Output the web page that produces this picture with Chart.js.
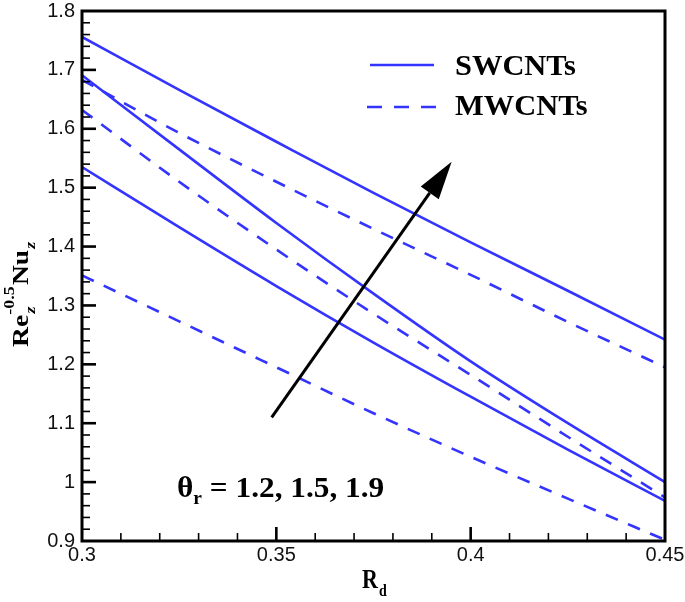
<!DOCTYPE html>
<html><head><meta charset="utf-8">
<script src="https://cdn.jsdelivr.net/npm/chart.js@4.4.0/dist/chart.umd.min.js"></script>
<style>html,body{margin:0;padding:0;background:#fff;}#wrap{width:685px;height:602px;position:relative;}</style>
</head><body><div id="wrap"><canvas id="c" width="685" height="602"></canvas></div>
<script>
// ---- data ----
const Rd = [0.3, 0.325, 0.35, 0.375, 0.4, 0.425, 0.45];
const swcnt_t12 = [1.535, 1.433, 1.333, 1.237, 1.145, 1.055, 0.968];
const swcnt_t15 = [1.691, 1.565, 1.440, 1.320, 1.205, 1.100, 1.000];
const swcnt_t19 = [1.756, 1.666, 1.578, 1.491, 1.407, 1.325, 1.242];
const mwcnt_t12 = [1.351, 1.273, 1.195, 1.117, 1.043, 0.972, 0.902];
const mwcnt_t15 = [1.632, 1.510, 1.395, 1.286, 1.182, 1.077, 0.974];
const mwcnt_t19 = [1.683, 1.593, 1.510, 1.430, 1.352, 1.272, 1.195];
const seriesLabels = ['SWCNTs', 'MWCNTs'];
const thetaValues = ['1.2', '1.5', '1.9'];
const xTickValues = [0.3, 0.35, 0.4, 0.45];
const xTickLabels = ['0.3', '0.35', '0.4', '0.45'];
const yTickValues = [0.9, 1.0, 1.1, 1.2, 1.3, 1.4, 1.5, 1.6, 1.7, 1.8];
const yTickLabels = ['0.9', '1', '1.1', '1.2', '1.3', '1.4', '1.5', '1.6', '1.7', '1.8'];
// arrow (data coordinates): tail -> tip
const arrowTail = [0.3488, 1.110];
const arrowTip = [0.3951, 1.544];

// ---- styles ----
const BLUE = '#3434ff';
const DASH = [13, 11];
const SERIF = '"Liberation Serif", "Times New Roman", serif';
const SANS = '"Liberation Sans", Arial, sans-serif';

function ds(label, vals, dashed) {
  return {
    label: label,
    data: Rd.map((x, i) => ({x: x, y: vals[i]})),
    borderColor: BLUE, borderWidth: 2.6,
    borderDash: dashed ? DASH : [],
    pointRadius: 0, tension: 0.35, cubicInterpolationMode: 'monotone', fill: false
  };
}

const overlay = {
  id: 'overlay',
  afterDraw(chart) {
    const ctx = chart.ctx, a = chart.chartArea, xs = chart.scales.x, ys = chart.scales.y;
    ctx.save();
    // inward ticks
    ctx.strokeStyle = '#000';
    for (let i = 1; i < 15; i++) {
      const px = xs.getPixelForValue(0.3 + i * 0.01);
      const major = i % 5 === 0;
      ctx.lineWidth = major ? 2.6 : 1.6;
      ctx.beginPath(); ctx.moveTo(px, a.bottom); ctx.lineTo(px, a.bottom - (major ? 14 : 8)); ctx.stroke();
    }
    for (let i = 1; i < 45; i++) {
      const py = ys.getPixelForValue(0.9 + i * 0.02);
      const major = i % 5 === 0;
      ctx.lineWidth = major ? 2.6 : 1.6;
      ctx.beginPath(); ctx.moveTo(a.left, py); ctx.lineTo(a.left + (major ? 14 : 8), py); ctx.stroke();
    }
    // frame
    ctx.lineWidth = 3;
    ctx.strokeRect(a.left, a.top, a.right - a.left, a.bottom - a.top);

    // legend
    ctx.strokeStyle = BLUE; ctx.lineWidth = 2.6;
    ctx.setLineDash([]);
    ctx.beginPath(); ctx.moveTo(370, 65); ctx.lineTo(434, 65); ctx.stroke();
    ctx.setLineDash([15, 12]);
    ctx.beginPath(); ctx.moveTo(367, 107); ctx.lineTo(436, 107); ctx.stroke();
    ctx.setLineDash([]);
    ctx.fillStyle = '#000';
    ctx.textBaseline = 'alphabetic'; ctx.textAlign = 'left';
    ctx.save();
    ctx.translate(455, 0); ctx.scale(1.05, 1);
    ctx.font = 'bold 29px ' + SERIF;
    ctx.fillText(seriesLabels[0], 0, 75);
    ctx.fillText(seriesLabels[1], 0, 115);
    ctx.restore();

    // arrow
    const tx = xs.getPixelForValue(arrowTail[0]), ty = ys.getPixelForValue(arrowTail[1]);
    const hx = xs.getPixelForValue(arrowTip[0]), hy = ys.getPixelForValue(arrowTip[1]);
    const ang = Math.atan2(hy - ty, hx - tx);
    const hl = 38, hw = 11;
    const bx = hx - hl * Math.cos(ang), by = hy - hl * Math.sin(ang);
    ctx.strokeStyle = '#000'; ctx.lineWidth = 3;
    ctx.beginPath(); ctx.moveTo(tx, ty); ctx.lineTo(bx, by); ctx.stroke();
    ctx.beginPath();
    ctx.moveTo(hx, hy);
    ctx.lineTo(bx + hw * Math.sin(ang), by - hw * Math.cos(ang));
    ctx.lineTo(bx - hw * Math.sin(ang), by + hw * Math.cos(ang));
    ctx.closePath(); ctx.fillStyle = '#000'; ctx.fill();

    // theta annotation
    ctx.save();
    ctx.translate(177, 497); ctx.scale(1.08, 1);
    let cx = 0;
    ctx.font = 'bold 29px ' + SERIF;
    ctx.fillText('\u03B8', cx, 0); cx += ctx.measureText('\u03B8').width;
    ctx.font = 'bold 18px ' + SERIF;
    ctx.fillText('r', cx, 7); cx += ctx.measureText('r').width;
    ctx.font = 'bold 29px ' + SERIF;
    ctx.fillText(' = ' + thetaValues.join(', '), cx, 0);
    ctx.restore();

    // x title
    ctx.save();
    ctx.translate(362, 588);
    ctx.scale(1, 1.2);
    ctx.font = 'bold 22px ' + SERIF;
    ctx.fillText('R', 0, 0);
    const rw = ctx.measureText('R').width;
    ctx.font = 'bold 14px ' + SERIF;
    ctx.fillText('d', rw + 1, 7);
    ctx.restore();

    // y title
    ctx.save();
    ctx.translate(28, 347);
    ctx.rotate(-Math.PI / 2);
    ctx.scale(1.2, 1);
    let px = 0;
    ctx.font = 'bold 23px ' + SERIF;
    ctx.fillText('Re', px, 0); px += ctx.measureText('Re').width;
    ctx.font = 'italic bold 15px ' + SERIF;
    ctx.fillText('z', px + 1, 7);
    ctx.font = 'bold 15px ' + SERIF;
    ctx.fillText('-0.5', px, -14);
    px += ctx.measureText('-0.5').width + 1;
    ctx.font = 'bold 23px ' + SERIF;
    ctx.fillText('Nu', px, 0); px += ctx.measureText('Nu').width;
    ctx.font = 'italic bold 15px ' + SERIF;
    ctx.fillText('z', px + 1, 7);
    ctx.restore();

    ctx.restore();
  }
};

new Chart(document.getElementById('c'), {
  type: 'line',
  data: {
    datasets: [
      ds('SWCNTs θr=1.2', swcnt_t12, false),
      ds('SWCNTs θr=1.5', swcnt_t15, false),
      ds('SWCNTs θr=1.9', swcnt_t19, false),
      ds('MWCNTs θr=1.2', mwcnt_t12, true),
      ds('MWCNTs θr=1.5', mwcnt_t15, true),
      ds('MWCNTs θr=1.9', mwcnt_t19, true)
    ]
  },
  options: {
    responsive: false, animation: false,
    layout: {padding: {top: 11, right: 20, left: 0, bottom: 0}},
    plugins: {legend: {display: false}, tooltip: {enabled: false}},
    scales: {
      x: {
        type: 'linear', min: 0.3, max: 0.45,
        grid: {display: false, drawTicks: false},
        border: {display: false},
        afterBuildTicks: s => { s.ticks = xTickValues.map(v => ({value: v})); },
        afterFit: s => { s.height = 61; s.paddingLeft = 0; s.paddingRight = 0; },
        ticks: {
          autoSkip: false, maxRotation: 0, padding: 4, color: '#111',
          font: {family: SANS, size: 20, lineHeight: 1},
          callback: (v, i) => xTickLabels[i]
        }
      },
      y: {
        type: 'linear', min: 0.9, max: 1.8,
        grid: {display: false, drawTicks: false},
        border: {display: false},
        afterBuildTicks: s => { s.ticks = yTickValues.map(v => ({value: v})); },
        afterFit: s => { s.width = 82; s.paddingTop = 0; s.paddingBottom = 0; },
        ticks: {
          autoSkip: false, padding: 7, color: '#111',
          font: {family: SANS, size: 20, lineHeight: 1},
          callback: (v, i) => yTickLabels[i]
        }
      }
    }
  },
  plugins: [overlay]
});
</script>
</body></html>
